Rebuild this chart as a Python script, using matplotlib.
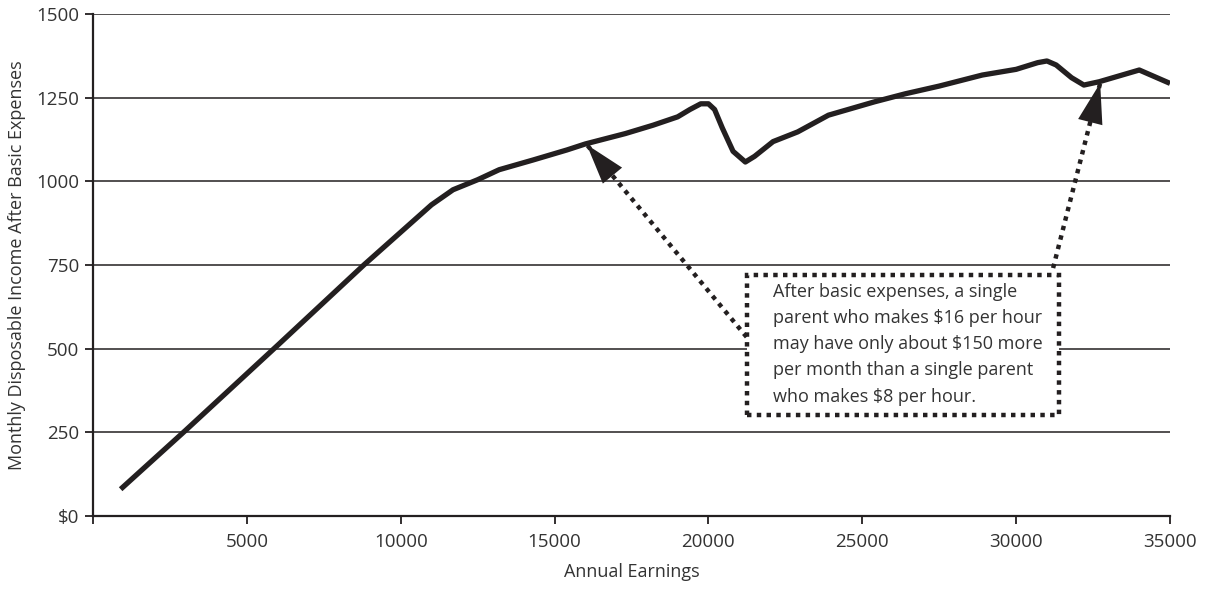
import matplotlib
matplotlib.use("Agg")
import matplotlib.pyplot as plt
from matplotlib.patches import Rectangle

plt.rcParams['font.family'] = ['Open Sans', 'DejaVu Sans']

# annual earnings ($) and monthly disposable income after basic expenses ($)
earnings = [900, 3000, 6000, 8800, 11000, 11700, 12500, 13200, 14300, 15400,
            16000, 17300, 18200, 19000, 19400, 19750, 20000, 20200, 20450,
            20800, 21200, 21500, 22100, 22900, 23900, 25400, 26400, 27500,
            28900, 30000, 30700, 31000, 31300, 31800, 32200, 32700, 34000,
            35000]
income = [80, 255, 510, 750, 930, 975, 1005, 1035, 1064, 1094,
          1112, 1143, 1168, 1193, 1215, 1232, 1232, 1215, 1160,
          1090, 1058, 1075, 1119, 1148, 1198, 1238, 1262, 1285,
          1318, 1335, 1355, 1360, 1348, 1310, 1288, 1298, 1333,
          1293]

x_ticks = [0, 5000, 10000, 15000, 20000, 25000, 30000, 35000]
x_labels = ["", "5000", "10000", "15000", "20000", "25000", "30000", "35000"]
y_ticks = [0, 250, 500, 750, 1000, 1250, 1500]
y_labels = ["$0", "250", "500", "750", "1000", "1250", "1500"]

note = ("After basic expenses, a single\n"
        "parent who makes $16 per hour\n"
        "may have only about $150 more\n"
        "per month than a single parent\n"
        "who makes $8 per hour.")

ink = "#231f20"
txt = "#333333"

fig = plt.figure(figsize=(12.15, 5.89), dpi=100)
ax = fig.add_axes([0.0765, 0.124, 0.8865, 0.852])

for y in y_ticks[1:]:
    ax.axhline(y, color=ink, lw=1.1, zorder=1)

ax.plot(earnings, income, color=ink, lw=3.8, solid_joinstyle="round",
        solid_capstyle="butt", zorder=3)

# dotted callout box
box = Rectangle((21240, 302), 10140, 418, fill=True, fc="white", ec=ink,
                lw=3.2, ls=(0, (1, 1.2)), zorder=4)
ax.add_patch(box)
ax.text(22100, 696, note, fontsize=13, color=txt, va="top", ha="left",
        linespacing=1.58, zorder=5)

# dotted arrows pointing at the curve
arrows = [((21240, 535), (16045, 1110)), ((31200, 741), (32730, 1294))]
for tail, tip in arrows:
    ax.plot([tail[0], tip[0]], [tail[1], tip[1]], color=ink, lw=3.2,
            ls=(0, (1, 1.2)), zorder=3)
    ax.annotate("", xy=tip, xytext=tail,
                arrowprops=dict(arrowstyle="-|>,head_length=1.45,head_width=0.45",
                                mutation_scale=20, lw=0, color=ink,
                                shrinkA=0, shrinkB=0), zorder=5)

ax.set_xlim(0, 35000)
ax.set_ylim(0, 1500)
ax.set_xticks(x_ticks)
ax.set_xticklabels(x_labels)
ax.set_yticks(y_ticks)
ax.set_yticklabels(y_labels)
ax.tick_params(axis="both", direction="out", length=6, width=1.3, color=ink,
               labelsize=13.5, labelcolor=txt)
ax.tick_params(axis="x", pad=6)
ax.tick_params(axis="y", pad=4)

for side in ["top", "right"]:
    ax.spines[side].set_visible(False)
for side in ["left", "bottom"]:
    ax.spines[side].set_color(ink)
    ax.spines[side].set_linewidth(1.6)

ax.set_xlabel("Annual Earnings", fontsize=13, color=txt, labelpad=9)
ax.set_ylabel("Monthly Disposable Income After Basic Expenses", fontsize=13,
              color=txt, labelpad=7)

fig.savefig("out.png", dpi=100)
